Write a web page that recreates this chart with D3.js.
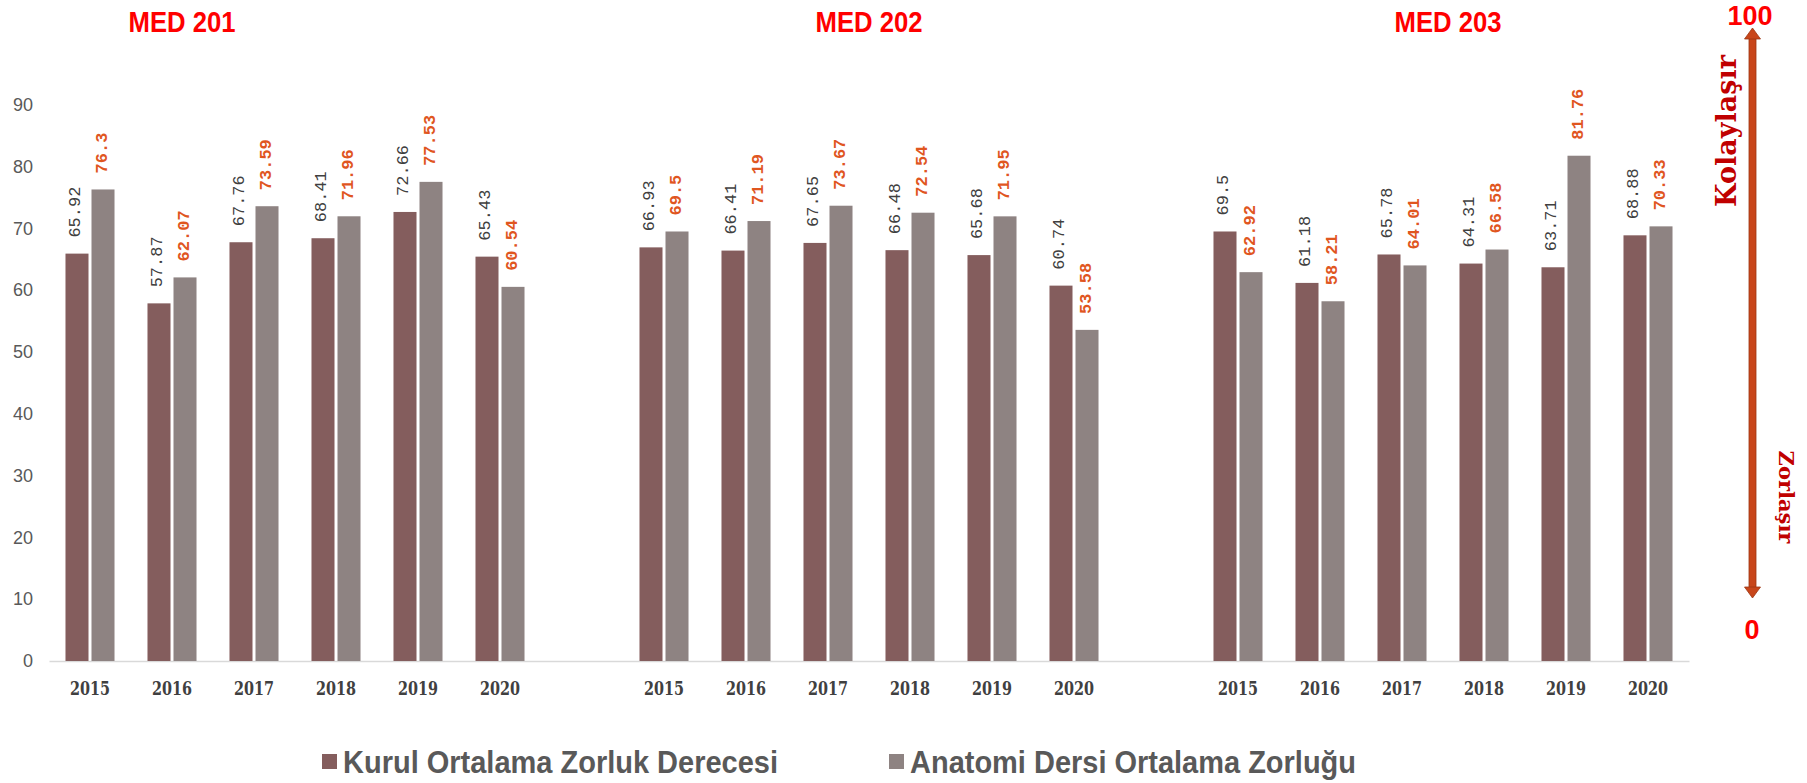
<!DOCTYPE html>
<html>
<head>
<meta charset="utf-8">
<script src="https://cdn.jsdelivr.net/npm/d3@7"></script>
<style>
  body { margin: 0; background: #fff; }
</style>
</head>
<body>
<div id="chart"></div>
<script>
// chart data
var courses = ["MED 201", "MED 202", "MED 203"];
var years = ["2015", "2016", "2017", "2018", "2019", "2020"];
var seriesNames = ["Kurul Ortalama Zorluk Derecesi", "Anatomi Dersi Ortalama Zorluğu"];
var kurul201 = [65.92, 57.87, 67.76, 68.41, 72.66, 65.43];
var anatomi201 = [76.3, 62.07, 73.59, 71.96, 77.53, 60.54];
var kurul202 = [66.93, 66.41, 67.65, 66.48, 65.68, 60.74];
var anatomi202 = [69.5, 71.19, 73.67, 72.54, 71.95, 53.58];
var kurul203 = [69.5, 61.18, 65.78, 64.31, 63.71, 68.88];
var anatomi203 = [62.92, 58.21, 64.01, 66.58, 81.76, 70.33];
var yTicks = [0, 10, 20, 30, 40, 50, 60, 70, 80, 90];

var kurulByCourse = [kurul201, kurul202, kurul203];
var anatomiByCourse = [anatomi201, anatomi202, anatomi203];

// colours
var barColors = ["#845d5d", "#8e8382"];
var labelColors = ["#404040", "#e0561f"];

var W = 1807, H = 783;
var plot = {left: 49, right: 1689, top: 104.8, bottom: 661};

var svg = d3.select("#chart")
  .append("svg")
    .attr("width", W)
    .attr("height", H);

// build the category slots, one empty slot between courses
var slots = [];
var rows = [];
courses.forEach(function(c, ci) {
  if (ci > 0) slots.push("gap" + ci);
  years.forEach(function(yr, yi) {
    var key = c + "|" + yr;
    slots.push(key);
    rows.push({key: key, course: c, year: yr, values: [kurulByCourse[ci][yi], anatomiByCourse[ci][yi]]});
  });
});

var x0 = d3.scaleBand()
    .domain(slots)
    .range([plot.left, plot.right]);

var x1 = d3.scaleBand()
    .domain([0, 1])
    .range([0, x0.bandwidth()])
    .paddingInner(0.115)
    .paddingOuter(0.634);

var y = d3.scaleLinear()
    .domain([0, 90])
    .range([plot.bottom, plot.top]);

// y axis labels only
var yAxis = svg.append("g")
    .attr("transform", "translate(" + plot.left + ",0)")
    .call(d3.axisLeft(y).tickValues(yTicks).tickSize(0).tickPadding(16));
yAxis.select(".domain").remove();
yAxis.selectAll(".tick text")
    .style("font-family", "'Liberation Sans', Arial, sans-serif")
    .style("font-size", "18px")
    .style("fill", "#595959");

// x axis with year labels
var xAxis = svg.append("g")
    .attr("transform", "translate(0," + plot.bottom + ")")
    .call(d3.axisBottom(x0)
      .tickValues(rows.map(function(d) { return d.key; }))
      .tickFormat(function(k) { return k.split("|")[1]; })
      .tickSize(0).tickSizeOuter(0).tickPadding(21));
xAxis.select(".domain")
    .attr("stroke", "#d9d9d9")
    .attr("stroke-width", 1.6);
xAxis.selectAll(".tick text")
    .attr("textLength", 40)
    .attr("lengthAdjust", "spacingAndGlyphs")
    .style("font-family", "'DejaVu Serif Condensed', 'DejaVu Serif', serif")
    .style("font-weight", "bold")
    .style("font-size", "19px")
    .style("fill", "#404040");

// bars
var groups = svg.append("g").selectAll("g")
    .data(rows)
    .enter()
    .append("g")
      .attr("transform", function(d) { return "translate(" + x0(d.key) + ",0)"; });

groups.selectAll("rect")
    .data(function(d) { return d.values; })
    .enter()
    .append("rect")
      .attr("x", function(d, i) { return x1(i); })
      .attr("y", function(d) { return y(d); })
      .attr("width", x1.bandwidth())
      .attr("height", function(d) { return plot.bottom - y(d); })
      .style("fill", function(d, i) { return barColors[i]; });

// value labels, rotated
groups.selectAll("text")
    .data(function(d) { return d.values; })
    .enter()
    .append("text")
      .attr("transform", function(d, i) {
        return "translate(" + (x1(i) + x1.bandwidth() / 2 - 1) + "," + (y(d) - 16) + ") rotate(-90)";
      })
      .attr("text-anchor", "start")
      .attr("dominant-baseline", "central")
      .style("font-family", "'Liberation Mono', 'DejaVu Sans Mono', monospace")
      .style("font-size", "17px")
      .style("font-weight", function(d, i) { return i === 1 ? "bold" : "normal"; })
      .style("fill", function(d, i) { return labelColors[i]; })
      .text(function(d) { return d; });

// course titles
var titleX = [182, 869, 1448];
svg.selectAll(".course-title")
    .data(courses)
    .enter()
    .append("text")
      .attr("class", "course-title")
      .attr("x", function(d, i) { return titleX[i]; })
      .attr("y", 32)
      .attr("text-anchor", "middle")
      .attr("textLength", 107)
      .attr("lengthAdjust", "spacingAndGlyphs")
      .style("font-family", "'Liberation Sans', Arial, sans-serif")
      .style("font-weight", "bold")
      .style("font-size", "30px")
      .style("fill", "#ff0000")
      .text(function(d) { return d; });

// easy / hard arrow on the right
var ax = 1752.5, aTop = 28, aBot = 598;
var arrowColor = "#c8461a";
svg.append("rect")
    .attr("x", ax - 3.5)
    .attr("y", aTop + 10)
    .attr("width", 7)
    .attr("height", aBot - aTop - 20)
    .style("fill", arrowColor)
    .style("stroke", "#9c3613")
    .style("stroke-width", 0.8);
svg.append("path")
    .attr("d", "M" + ax + "," + aTop + "L" + (ax + 8) + "," + (aTop + 11) + "L" + (ax - 8) + "," + (aTop + 11) + "Z")
    .style("fill", arrowColor)
    .style("stroke", "#9c3613")
    .style("stroke-width", 0.8);
svg.append("path")
    .attr("d", "M" + ax + "," + aBot + "L" + (ax + 8) + "," + (aBot - 11) + "L" + (ax - 8) + "," + (aBot - 11) + "Z")
    .style("fill", arrowColor)
    .style("stroke", "#9c3613")
    .style("stroke-width", 0.8);

svg.append("text")
    .attr("x", 1750)
    .attr("y", 25)
    .attr("text-anchor", "middle")
    .style("font-family", "'Liberation Sans', Arial, sans-serif")
    .style("font-weight", "bold")
    .style("font-size", "27px")
    .style("fill", "#ff0000")
    .text("100");

svg.append("text")
    .attr("x", 1752)
    .attr("y", 639)
    .attr("text-anchor", "middle")
    .style("font-family", "'Liberation Sans', Arial, sans-serif")
    .style("font-weight", "bold")
    .style("font-size", "27px")
    .style("fill", "#ff0000")
    .text("0");

svg.append("text")
    .attr("transform", "translate(1726,131) rotate(-90)")
    .attr("text-anchor", "middle")
    .attr("dominant-baseline", "central")
    .style("font-family", "'DejaVu Serif', serif")
    .style("font-weight", "bold")
    .style("font-size", "27px")
    .style("fill", "#c00000")
    .text("Kolaylaşır");

svg.append("text")
    .attr("transform", "translate(1786,497) rotate(90)")
    .attr("text-anchor", "middle")
    .attr("dominant-baseline", "central")
    .style("font-family", "'DejaVu Serif', serif")
    .style("font-weight", "bold")
    .style("font-size", "21px")
    .style("fill", "#c00000")
    .text("Zorlaşır");

// legend
var legendX = [322, 889];
var legendLen = [435, 446];
var legend = svg.selectAll(".legend")
    .data(seriesNames)
    .enter()
    .append("g")
      .attr("class", "legend")
      .attr("transform", function(d, i) { return "translate(" + legendX[i] + ",0)"; });
legend.append("rect")
    .attr("x", 0)
    .attr("y", 754)
    .attr("width", 15)
    .attr("height", 15)
    .style("fill", function(d, i) { return barColors[i]; });
legend.append("text")
    .attr("x", 21)
    .attr("y", 773)
    .attr("textLength", function(d, i) { return legendLen[i]; })
    .attr("lengthAdjust", "spacingAndGlyphs")
    .style("font-family", "'Liberation Sans', Arial, sans-serif")
    .style("font-weight", "bold")
    .style("font-size", "31px")
    .style("fill", "#595959")
    .text(function(d) { return d; });
</script>
</body>
</html>
